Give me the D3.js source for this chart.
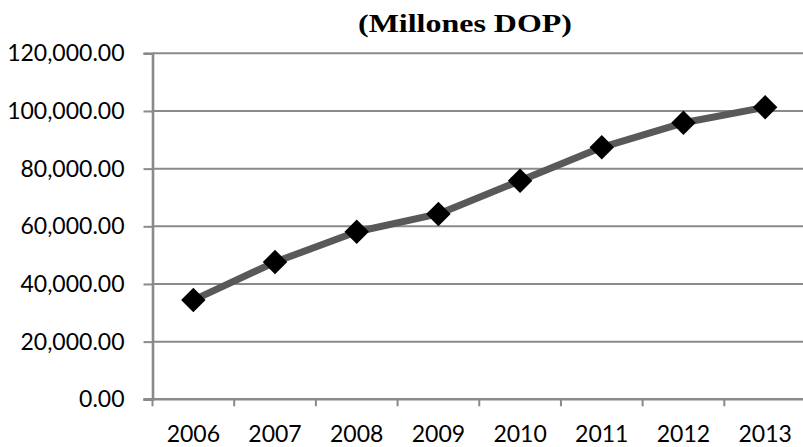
<!DOCTYPE html>
<html>
<head>
<meta charset="utf-8">
<script src="https://cdn.jsdelivr.net/npm/d3@7"></script>
<style>
  html, body { margin: 0; padding: 0; background: #fff; }
  svg { display: block; }
</style>
</head>
<body>
<svg id="chart" width="803" height="447"></svg>
<script>
// Annual values, millions of DOP
const years = ["2006", "2007", "2008", "2009", "2010", "2011", "2012", "2013"];
const values = [34400, 47600, 58100, 64300, 75800, 87400, 95900, 101300];
const yTicks = [0, 20000, 40000, 60000, 80000, 100000, 120000];
const titleText = "(Millones DOP)";

const svg = d3.select("#chart");
const W = 803, H = 447;
const plot = { left: 152.5, right: 806, top: 53.3, bottom: 399.3 };

const x = d3.scaleBand().domain(years).range([plot.left, plot.right]).padding(0);
const y = d3.scaleLinear().domain([0, 120000]).range([plot.bottom, plot.top]);
const fmt = d3.format(",.2f");
const gridColor = "#8a8a8a";
const labelFont = "Lato, 'Liberation Sans', Arial, sans-serif";

// Horizontal gridlines
svg.append("g")
  .selectAll("line")
  .data(yTicks.filter(d => d !== 0))
  .join("line")
  .attr("x1", plot.left).attr("x2", W)
  .attr("y1", d => y(d)).attr("y2", d => y(d))
  .attr("stroke", gridColor).attr("stroke-width", 2);

// Y axis
const yAxis = svg.append("g")
  .attr("transform", `translate(${plot.left},0)`)
  .call(d3.axisLeft(y).tickValues(yTicks).tickFormat(fmt).tickSize(9).tickPadding(19));
yAxis.select(".domain").attr("stroke", gridColor).attr("stroke-width", 2.6);
yAxis.selectAll(".tick line").attr("stroke", gridColor).attr("stroke-width", 2);
yAxis.selectAll(".tick text")
  .attr("fill", "#000")
  .style("font-family", labelFont)
  .style("font-size", "23px");

// X axis with category boundary ticks
const xAxisG = svg.append("g").attr("transform", `translate(0,${plot.bottom})`);
xAxisG.append("line")
  .attr("x1", plot.left - 9).attr("x2", W)
  .attr("y1", 0).attr("y2", 0)
  .attr("stroke", gridColor).attr("stroke-width", 2.6);
xAxisG.selectAll("line.cat")
  .data(years)
  .join("line")
  .attr("class", "cat")
  .attr("x1", d => x(d)).attr("x2", d => x(d))
  .attr("y1", 0).attr("y2", 7)
  .attr("stroke", gridColor).attr("stroke-width", 2);
xAxisG.selectAll("text")
  .data(years)
  .join("text")
  .attr("x", d => x(d) + x.bandwidth() / 2)
  .attr("y", 43)
  .attr("text-anchor", "middle")
  .attr("fill", "#000")
  .style("font-family", labelFont)
  .style("font-size", "23px")
  .text(d => d);

// Series line
const pts = years.map((yr, i) => [x(yr) + x.bandwidth() / 2, y(values[i])]);
svg.append("path")
  .datum(pts)
  .attr("d", d3.line())
  .attr("fill", "none")
  .attr("stroke", "#595959")
  .attr("stroke-width", 7)
  .attr("stroke-linejoin", "round");

// Diamond markers
svg.append("g")
  .selectAll("path")
  .data(pts)
  .join("path")
  .attr("d", d3.symbol(d3.symbolSquare, 300))
  .attr("transform", d => `translate(${d[0]},${d[1]}) rotate(45)`)
  .attr("fill", "#000");

// Title
svg.append("text")
  .attr("x", 465)
  .attr("y", 32)
  .attr("text-anchor", "middle")
  .attr("textLength", 214)
  .attr("lengthAdjust", "spacingAndGlyphs")
  .attr("fill", "#000")
  .style("font-family", "'Liberation Serif', 'Times New Roman', serif")
  .style("font-weight", "bold")
  .style("font-size", "25px")
  .text(titleText);
</script>
</body>
</html>
